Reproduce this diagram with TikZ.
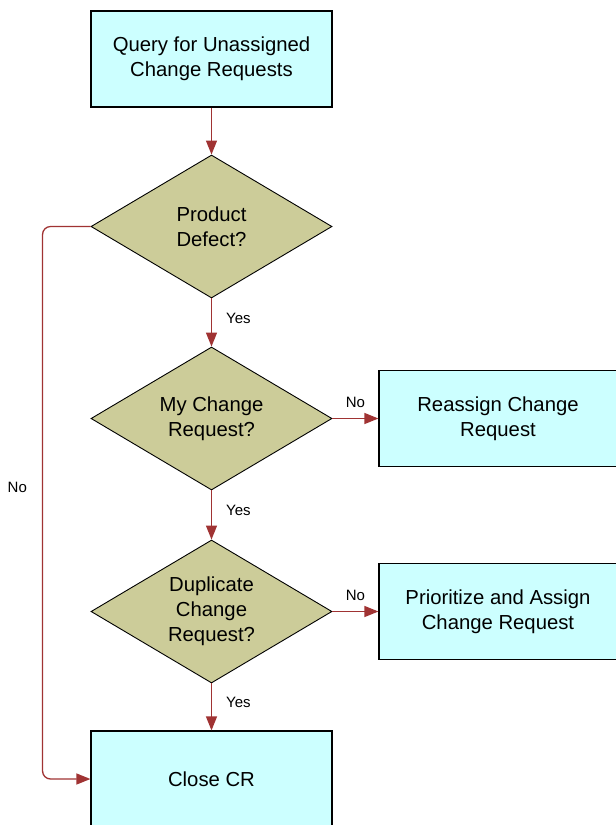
\documentclass[tikz,border=0pt]{standalone}
\usepackage{fontspec}
\setmainfont{Liberation Sans}
\usetikzlibrary{shapes.geometric, arrows.meta}

\definecolor{boxcyan}{HTML}{CCFFFF}
\definecolor{decisionkhaki}{HTML}{CCCC99}
\definecolor{flowred}{HTML}{A03333}

\begin{document}
\begin{tikzpicture}[x=1pt, y=-1pt,
    taskbox/.style={draw=black, line width=1.2pt, fill=boxcyan, rectangle, minimum width=241pt, minimum height=96pt, inner sep=0pt, align=center, font=\fontsize{20.3}{25}\selectfont},
    decision/.style={draw=black, line width=0.9pt, fill=decisionkhaki, diamond, aspect=1.686, minimum width=241pt, minimum height=143pt, inner sep=0pt, align=center, font=\fontsize{20.3}{25}\selectfont},
    flow/.style={flowred, line width=1.3pt, -{Triangle[length=14pt, width=11pt]}},
    answer/.style={text=black, inner sep=0pt, font=\fontsize{15}{17}\selectfont}]
\useasboundingbox (0,0) rectangle (616,825);
\fill[white] (0,0) rectangle (616,825);

\node[taskbox] (query) at (211.5,59) {Query for Unassigned\\Change Requests};
\node[decision] (defect) at (211.5,226.5) {Product\\Defect?};
\node[decision] (mine) at (211.5,418.5) {My Change\\Request?};
\node[decision] (duplicate) at (211.5,611.5) {Duplicate\\Change\\Request?};
\node[taskbox, minimum width=238pt] (reassign) at (498,418.5) {Reassign Change\\Request};
\node[taskbox, minimum width=238pt] (prioritize) at (498,611.5) {Prioritize and Assign\\Change Request};
\node[taskbox] (closecr) at (211.5,779) {Close CR};

\draw[flow] (query) -- (defect);
\draw[flow] (defect) -- node[answer, pos=0.41, anchor=west, xshift=14pt] (yesdefect) {Yes} (mine);
\draw[flow] (mine) -- node[answer, pos=0.41, anchor=west, xshift=14pt] (yesmine) {Yes} (duplicate);
\draw[flow] (duplicate) -- node[answer, pos=0.41, anchor=west, xshift=14pt] (yesduplicate) {Yes} (closecr);
\draw[flow] (mine.east) -- node[answer, midway, anchor=south, yshift=10pt] (nomine) {No} (reassign.west);
\draw[flow] (duplicate.east) -- node[answer, midway, anchor=south, yshift=10pt] (noduplicate) {No} (prioritize.west);
\draw[flow, rounded corners=8pt] (defect.west) -- ++(-48,0) |- node[answer, pos=0.236, anchor=east, xshift=-15pt] (nodefect) {No} (closecr.west);

\end{tikzpicture}
\end{document}
